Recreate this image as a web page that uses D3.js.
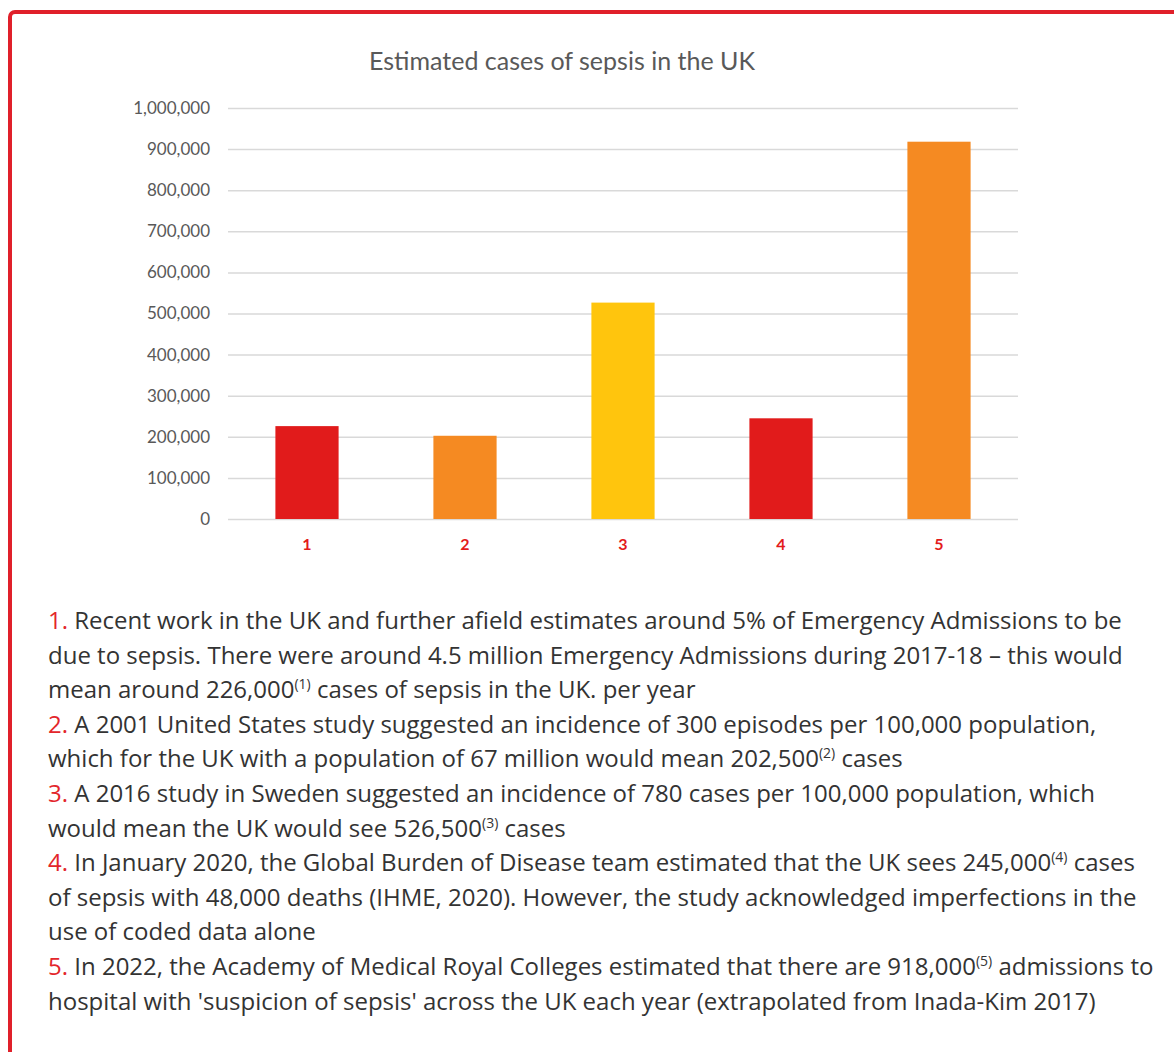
<!DOCTYPE html>
<html>
<head>
<meta charset="utf-8">
<script src="https://cdn.jsdelivr.net/npm/d3@7"></script>
<style>
  body { margin:0; background:#fff; overflow:hidden; width:1174px; height:1052px; position:relative; }
  .frame { position:absolute; left:8px; top:10px; width:1220px; height:1120px; border:4px solid #e0202a; border-radius:7px; box-sizing:border-box; }
  #chart { position:absolute; left:0; top:0; }
  .yAxis text { font-family: Lato, sans-serif; font-size:17px; fill:#595959; }
  .xAxis text { font-family: Lato, sans-serif; font-size:16px; font-weight:bold; fill:#e31b1b; }
  .yAxis line { stroke:#d9d9d9; stroke-width:1.5; }
  .title { font-family: Lato, sans-serif; font-size:25px; fill:#595959; }
  #notes { position:absolute; left:48px; top:603px; font-family:"Open Sans", sans-serif; font-size:24px; line-height:34.6px; color:#333; white-space:nowrap; }
  #notes div { height:34.6px; }
  #notes .num { color:#e3262b; }
  #notes sup { font-size:14px; line-height:0; vertical-align:baseline; position:relative; top:-9px; }
</style>
</head>
<body>
<div class="frame"></div>
<div id="chart"></div>
<div id="notes"></div>
<script>
let categories = ["1", "2", "3", "4", "5"]
let cases = [226000, 202500, 526500, 245000, 918000]
let barColors = ["#e11b1b", "#f58a22", "#ffc50d", "#e11b1b", "#f58a22"]
let yTicks = [0, 100000, 200000, 300000, 400000, 500000, 600000, 700000, 800000, 900000, 1000000]
let chartTitle = "Estimated cases of sepsis in the UK"

let noteLines = [
  ["1.", "Recent work in the UK and further afield estimates around 5% of Emergency Admissions to be"],
  ["", "due to sepsis. There were around 4.5 million Emergency Admissions during 2017-18 – this would"],
  ["", "mean around 226,000<sup>(1)</sup> cases of sepsis in the UK. per year"],
  ["2.", "A 2001 United States study suggested an incidence of 300 episodes per 100,000 population,"],
  ["", "which for the UK with a population of 67 million would mean 202,500<sup>(2)</sup> cases"],
  ["3.", "A 2016 study in Sweden suggested an incidence of 780 cases per 100,000 population, which"],
  ["", "would mean the UK would see 526,500<sup>(3)</sup> cases"],
  ["4.", "In January 2020, the Global Burden of Disease team estimated that the UK sees 245,000<sup>(4)</sup> cases"],
  ["", "of sepsis with 48,000 deaths (IHME, 2020). However, the study acknowledged imperfections in the"],
  ["", "use of coded data alone"],
  ["5.", "In 2022, the Academy of Medical Royal Colleges estimated that there are 918,000<sup>(5)</sup> admissions to"],
  ["", "hospital with 'suspicion of sepsis' across the UK each year (extrapolated from Inada-Kim 2017)"]
]

function render(){
  let width = 1174, height = 580,
      margin = { top:108, left:228, right:156, bottom:61 },
      plotWidth = width - margin.left - margin.right,
      plotHeight = height - margin.top - margin.bottom

  let svg = d3.select("#chart").append("svg").attr("width", width).attr("height", height)
  let g = svg.append("g").attr("transform", `translate(${margin.left},${margin.top})`)

  let xScale = d3.scaleBand().domain(categories).range([0, plotWidth]).paddingInner(0.6).paddingOuter(0.3)
  let yScale = d3.scaleLinear().domain([0, 1000000]).range([plotHeight, 0])

  let yAxis = d3.axisLeft(yScale).tickValues(yTicks).tickFormat(d3.format(",")).tickSize(-plotWidth).tickPadding(18)
  let yGroup = g.append("g").attr("class", "yAxis").call(yAxis)
  yGroup.select(".domain").remove()

  g.selectAll("rect.bar").data(cases).enter()
    .append("rect")
    .attr("class", "bar")
    .attr("x", (d, i) => xScale(categories[i]))
    .attr("y", d => yScale(d))
    .attr("width", xScale.bandwidth())
    .attr("height", d => plotHeight - yScale(d))
    .attr("fill", (d, i) => barColors[i])

  let xAxis = d3.axisBottom(xScale).tickSize(0).tickPadding(20)
  let xGroup = g.append("g").attr("class", "xAxis").attr("transform", `translate(0,${plotHeight})`).call(xAxis)
  xGroup.select(".domain").remove()

  svg.append("text").attr("class", "title").attr("x", 562).attr("y", 70)
     .attr("text-anchor", "middle").text(chartTitle)

  let notes = d3.select("#notes")
  notes.selectAll("div").data(noteLines).enter()
    .append("div")
    .html(d => (d[0] ? `<span class="num">${d[0]}</span> ` : "") + d[1])
}

render()
</script>
</body>
</html>
